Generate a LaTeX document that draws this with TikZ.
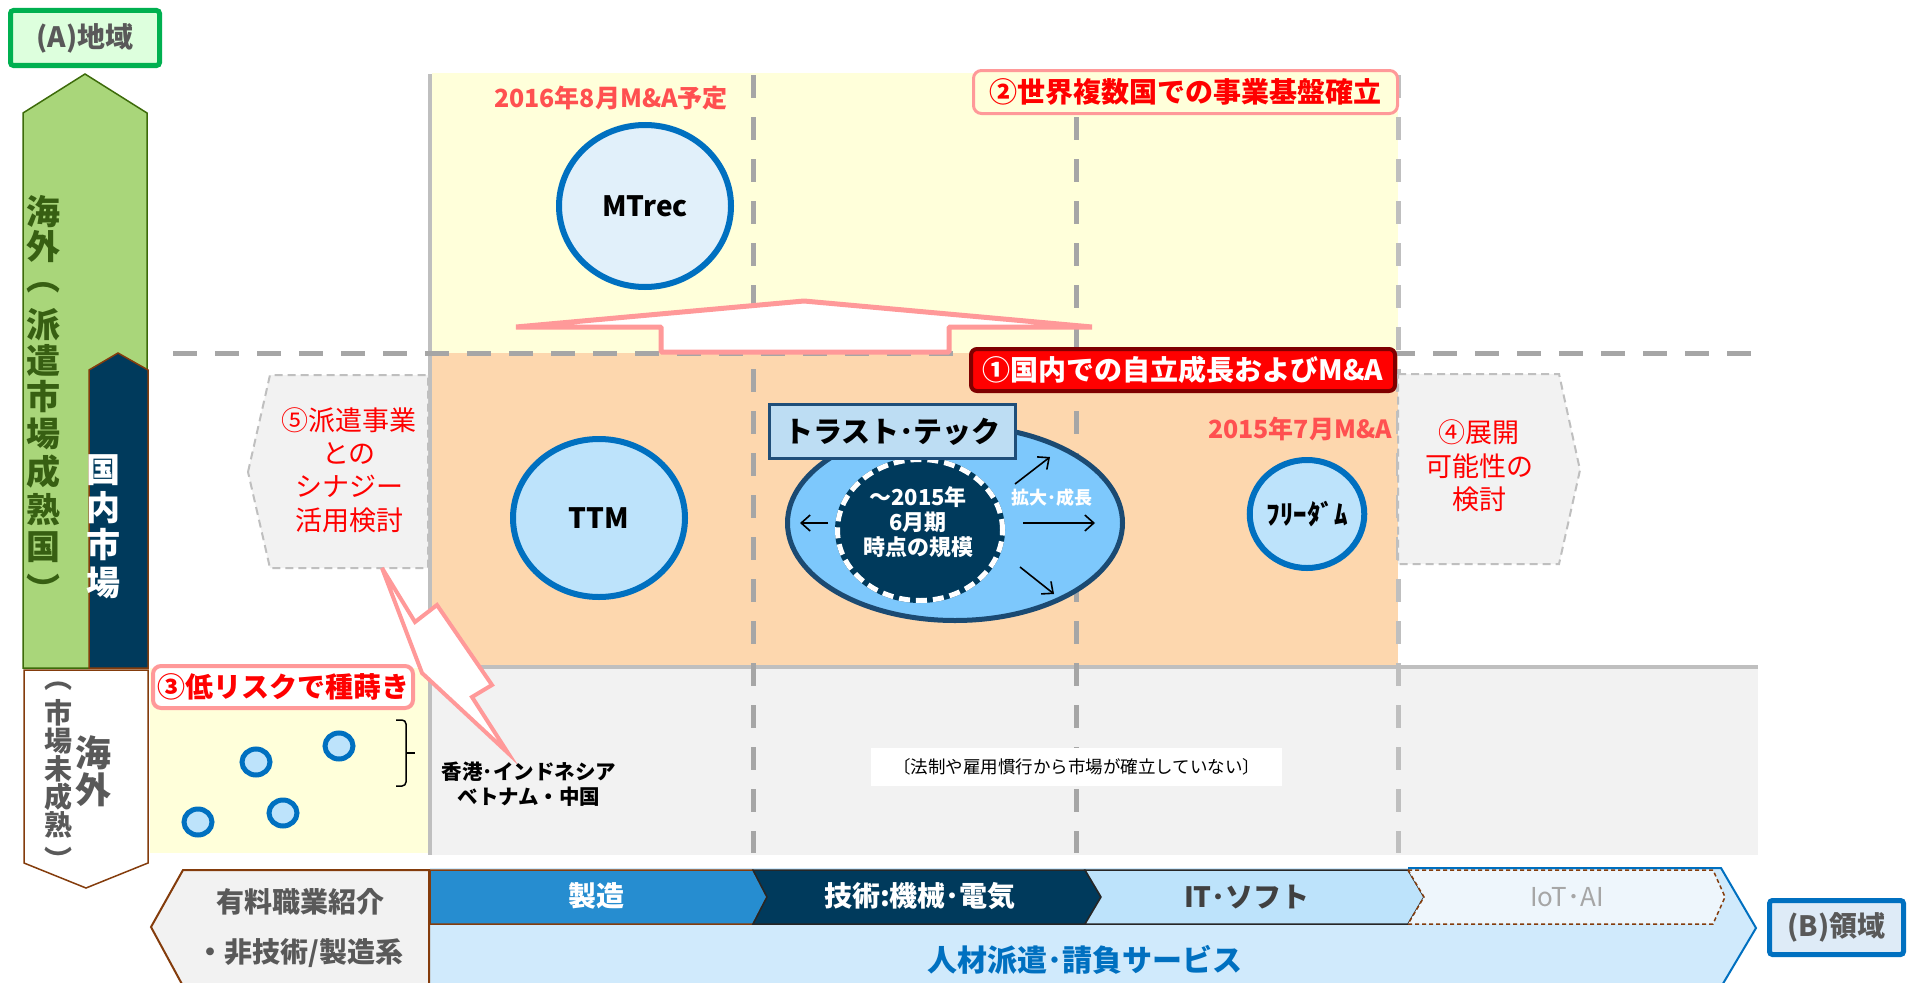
\documentclass[tikz,border=0pt]{standalone}
\usepackage{fontspec}
\setmainfont{Noto Sans CJK JP}
\usetikzlibrary{arrows.meta,shapes.geometric}
\newcommand\myfs[2]{\fontsize{#1}{#2}\selectfont}
\definecolor{tgray}{HTML}{595959}
\definecolor{agreen}{HTML}{00B050}
\definecolor{afill}{HTML}{DDFFDD}
\definecolor{garrow}{HTML}{A9D67A}
\definecolor{gborder}{HTML}{3D6B0A}
\definecolor{gtext}{HTML}{375F12}
\definecolor{navy}{HTML}{003A5C}
\definecolor{cbrown}{HTML}{843C0C}
\definecolor{yel}{HTML}{FFFFDA}
\definecolor{peach}{HTML}{FDD7AE}
\definecolor{lgray}{HTML}{F2F2F2}
\definecolor{lineg}{HTML}{BFBFBF}
\definecolor{dashg}{HTML}{A6A6A6}
\definecolor{cpink}{HTML}{FF9999}
\definecolor{salmon}{HTML}{FF5050}
\definecolor{cblue}{HTML}{0070C0}
\definecolor{cfill}{HTML}{BDE3FB}
\definecolor{mfill}{HTML}{E1F0FA}
\definecolor{efill}{HTML}{7DC8FC}
\definecolor{eborder}{HTML}{1B4A72}
\definecolor{lblfill}{HTML}{BDDDF3}
\definecolor{lblborder}{HTML}{1F4E79}
\definecolor{darkred}{HTML}{7F0000}
\definecolor{mfgblue}{HTML}{268DD0}
\definecolor{bandfill}{HTML}{D0EAFC}
\definecolor{iotfill}{HTML}{EEF6FC}
\definecolor{bfill}{HTML}{DEEBF7}
\definecolor{dgray}{HTML}{404040}
\definecolor{ltxt}{HTML}{A6A6A6}
\definecolor{segline}{HTML}{262626}
\tikzset{
  tx/.style={inner sep=0pt, align=center},
  vg/.style={tx, text=gtext, font=\myfs{34}{34}\bfseries},
  vw/.style={tx, text=white, font=\myfs{34}{34}\bfseries},
  vs/.style={tx, text=tgray, font=\myfs{28}{28}\bfseries},
  vb/.style={tx, text=tgray, font=\myfs{36}{36}\bfseries},
  bigcirc/.style={ellipse, draw=cblue, line width=6pt, fill=cfill, inner sep=0pt, font=\myfs{28}{28}\bfseries},
  sdot/.style={ellipse, draw=cblue, line width=5pt, fill=cfill, inner sep=0pt, minimum width=28pt, minimum height=26pt},
  gdash/.style={dashg, line width=5pt, dash pattern=on 23pt off 19pt},
  thinarr/.style={line width=1.6pt, -{Straight Barb[length=9pt,width=16pt]}},
  redlbl/.style={tx, text=red, font=\myfs{27}{33.4}},
  salm/.style={tx, text=salmon, font=\myfs{25}{25}\bfseries},
  pent/.style={lineg, line width=2pt, dash pattern=on 8pt off 5pt, fill=lgray},
  seg/.style={line width=1.5pt},
  segtxt/.style={tx, font=\myfs{28}{28}\bfseries},
}
\begin{document}
\begin{tikzpicture}[x=1pt,y=-1pt]
\useasboundingbox (0,0) rectangle (1910,982);
\fill[white] (0,0) rectangle (1910,982);

% regions
\fill[yel] (432,73) rectangle (1398,353);
\fill[peach] (432,353) rectangle (1398,667);
\fill[lgray] (432,667) rectangle (1758,855);
\fill[yel] (150,668) rectangle (428,853);

% grid lines
\draw[lineg, line width=4pt] (430,74) -- (430,855);
\draw[lineg, line width=4pt] (430,667) -- (1758,667);
\draw[gdash] (753,75) -- (753,853);
\draw[gdash] (1076,75) -- (1076,853);
\draw[gdash, lineg] (1398,75) -- (1398,853);
\draw[dashg, line width=5pt, dash pattern=on 24pt off 18pt] (173,353) -- (1755,353);

% left axis arrows
\draw[gborder, line width=1.5pt, fill=garrow] (23,113) -- (85,74) -- (147,113) -- (147,668) -- (23,668) -- cycle;
\draw[cbrown, line width=1.5pt, fill=navy] (89,370) -- (118,353) -- (148,370) -- (148,668) -- (89,668) -- cycle;
\draw[cbrown, line width=1.5pt, fill=white] (24,670) -- (148,670) -- (148,863) -- (86,888) -- (24,863) -- cycle;

\foreach \c/\y [count=\i] in {海/212,外/247,︵/288,派/325,遣/360,市/397,場/434,成/472,熟/510,国/547,︶/588}
  \node[vg] (ga\i) at (43,\y) {\c};
\foreach \c/\y [count=\i] in {国/470,内/508,市/545,場/583}
  \node[vw] (na\i) at (103,\y) {\c};
\foreach \c/\y [count=\i] in {︵/686,市/713,場/741,未/769,成/797,熟/825,︶/859}
  \node[vs] (wa\i) at (58,\y) {\c};
\foreach \c/\y [count=\i] in {海/753,外/790}
  \node[vb] (wb\i) at (93,\y) {\c};

\node[draw=agreen, line width=5pt, fill=afill, rounded corners=3pt, minimum width=149pt, minimum height=55pt, inner sep=0pt, text=tgray, font=\myfs{28}{28}\bfseries] (abox) at (85,38) {(A)地域};

% top area
\node[salm] (mtdate) at (611,98) {2016年8月M\&A予定};
\node[bigcirc, fill=mfill, minimum width=172pt, minimum height=162pt] (mtrec) at (645,206) {MTrec};
\draw[cpink, line width=5pt, fill=white, line join=bevel] (516,327) -- (804,301) -- (1092,327) -- (949,327) -- (949,352) -- (661,352) -- (661,327) -- cycle;
\node[draw=cpink, line width=3pt, fill=yel, rounded corners=8pt, minimum width=424pt, minimum height=43pt, inner sep=0pt, text=red, font=\myfs{28}{28}\bfseries] (goal2) at (1185.5,92) {②世界複数国での事業基盤確立};

% middle area
\node[draw=darkred, line width=4pt, fill=red, rounded corners=6pt, minimum width=424pt, minimum height=42pt, inner sep=0pt, text=white, font=\myfs{28}{28}\bfseries] (goal1) at (1183,370) {①国内での自立成長およびM\&A};

\draw[pent] (248,472) -- (270,375) -- (428,375) -- (428,568) -- (270,568) -- cycle;
\node[redlbl] (g5) at (349,470) {⑤派遣事業\\との\\シナジー\\活用検討};
\draw[pent] (1398,374) -- (1559,374) -- (1580,470) -- (1559,564) -- (1398,564) -- cycle;
\node[redlbl] (g4) at (1479,466) {④展開\\可能性の\\検討};

\node[bigcirc, minimum width=172pt, minimum height=158pt] (ttm) at (599,518) {TTM};

\node[ellipse, draw=eborder, line width=5pt, fill=efill, minimum width=335pt, minimum height=195pt, inner sep=0pt] (tt) at (955,523) {};
\node[ellipse, draw=navy, fill=navy, line width=5pt, minimum width=165pt, minimum height=141pt, inner sep=0pt,
  postaction={draw=white, line width=5pt, dash pattern=on 11pt off 6pt}] (core) at (920,530) {};
\node[tx, text=white, font=\myfs{22}{25}\bfseries] (coretxt) at (918,522) {～2015年\\6月期\\時点の規模};
\node[draw=lblborder, line width=3pt, fill=lblfill, minimum width=246pt, minimum height=54pt, inner sep=0pt, font=\myfs{29}{29}\bfseries] (ttlbl) at (892.5,431.5) {トラスト･テック};
\coordinate (la1) at (828,523); \coordinate (la2) at (800,523);
\coordinate (ra1) at (1023,523); \coordinate (ra2) at (1095,523);
\coordinate (ua1) at (1015,484); \coordinate (ua2) at (1050,457);
\coordinate (da1) at (1020,567); \coordinate (da2) at (1054,594);
\draw[thinarr] (la1) -- (la2);
\draw[thinarr] (ra1) -- (ra2);
\draw[thinarr] (ua1) -- (ua2);
\draw[thinarr] (da1) -- (da2);
\node[tx, text=white, font=\myfs{18}{18}\bfseries] (grow) at (1052,498) {拡大･成長};

\node[salm] (frdate) at (1300,429) {2015年7月M\&A};
\node[bigcirc, minimum width=114pt, minimum height=108pt, font=\myfs{27}{27}\bfseries] (free) at (1307,514) {ﾌﾘｰﾀﾞﾑ};

% lower-left
\draw[cpink, line width=4pt, fill=white, line join=miter] (382,568) -- (415,622) -- (437,605) -- (492,685) -- (472,697) -- (508,753) -- (422,673) -- cycle;
\node[draw=cpink, line width=4pt, fill=white, rounded corners=8pt, minimum width=260pt, minimum height=42pt, inner sep=0pt, text=red, font=\myfs{28}{28}\bfseries] (goal3) at (283,687) {③低リスクで種蒔き};
\node[sdot] (d1) at (256,762) {};
\node[sdot] (d2) at (339,746) {};
\node[sdot] (d3) at (198,822) {};
\node[sdot] (d4) at (283,813) {};
\draw[line width=1.5pt, rounded corners=4pt] (396,720) -- (406,720) -- (406,786) -- (396,786);
\draw[line width=1.5pt] (406,753) -- (415,753);
\node[tx, font=\myfs{20.5}{25}\bfseries] (asia) at (529,784) {香港･インドネシア\\ベトナム・中国};
\node[fill=white, minimum width=411pt, minimum height=38pt, inner sep=0pt, font=\myfs{17.5}{17.5}] (law) at (1076.5,767) {〔法制や雇用慣行から市場が確立していない〕};

% bottom band
\fill[bandfill] (430,868) -- (1721,868) -- (1756,928) -- (1718,992) -- (430,992) -- cycle;
\draw[cblue, line width=2pt] (1408,868) -- (1721,868) -- (1756,928) -- (1718,992);
\draw[cbrown, line width=2pt, fill=lgray] (151,927) -- (183,870) -- (429,870) -- (429,986) -- (183,986) -- cycle;
\node[tx, text=tgray, font=\myfs{28}{50}\bfseries] (paid) at (300,928) {有料職業紹介\\・非技術/製造系};
\draw[seg, draw=cbrown, fill=mfgblue] (430,870) -- (753,870) -- (767,897) -- (753,924) -- (430,924) -- cycle;
\draw[seg, draw=segline, fill=navy] (753,870) -- (1085,870) -- (1101,897) -- (1085,924) -- (753,924) -- (767,897) -- cycle;
\draw[seg, draw=segline, fill=cfill] (1085,870) -- (1408,870) -- (1424,897) -- (1408,924) -- (1085,924) -- (1101,897) -- cycle;
\draw[seg, draw=cbrown, dash pattern=on 4pt off 3pt, fill=iotfill] (1408,870) -- (1713,870) -- (1725,897) -- (1713,924) -- (1408,924) -- (1424,897) -- cycle;
\node[segtxt, text=white] (mfg) at (596,896) {製造};
\node[segtxt, text=white] (tech) at (920,896) {技術:機械･電気};
\node[segtxt, text=dgray] (it) at (1247,897) {IT･ソフト};
\node[tx, text=ltxt, font=\myfs{26}{26}] (iot) at (1567,897) {IoT･AI};
\node[tx, text=cblue, font=\myfs{30}{30}\bfseries] (band) at (1085,960) {人材派遣･請負サービス};
\node[draw=cblue, line width=5pt, fill=bfill, rounded corners=3pt, minimum width=134pt, minimum height=54pt, inner sep=0pt, text=tgray, font=\myfs{28}{28}\bfseries] (bbox) at (1836.5,927.5) {(B)領域};
\end{tikzpicture}
\end{document}
